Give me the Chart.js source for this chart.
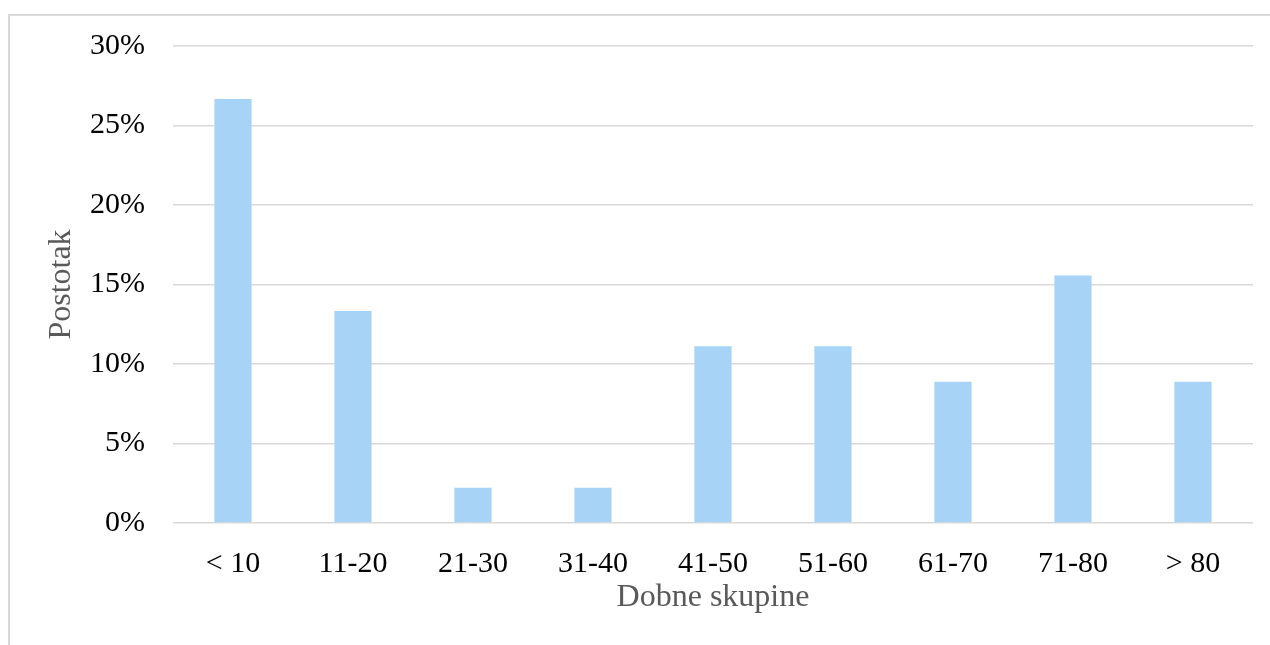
<!DOCTYPE html>
<html>
<head>
<meta charset="utf-8">
<script src="https://cdn.jsdelivr.net/npm/chart.js@4.4.0/dist/chart.umd.min.js"></script>
<style>
  html, body { margin: 0; padding: 0; background: #fff; overflow: hidden; }
  #wrap { position: relative; width: 1270px; height: 645px; }
  #frame { position: absolute; left: 8px; top: 14px; width: 1400px; height: 800px;
           border-left: 2px solid #d9d9d9; border-top: 2px solid #d9d9d9; }
  canvas { position: absolute; left: 0; top: 0; }
</style>
</head>
<body>
<div id="wrap">
  <div id="frame"></div>
  <canvas id="chart"></canvas>
</div>
<script>
// age groups and share of cases (%)
var labels = ["< 10", "11-20", "21-30", "31-40", "41-50", "51-60", "61-70", "71-80", "> 80"];
var values = [26.67, 13.33, 2.22, 2.22, 11.11, 11.11, 8.89, 15.56, 8.89];
var xTitle = "Dobne skupine";
var yTitle = "Postotak";

var serif = "'Liberation Serif', 'Times New Roman', serif";

const ctx = document.getElementById("chart").getContext("2d");
var config = {
  type: "bar",
  data: {
    labels: labels,
    datasets: [{
      label: "",
      data: values,
      backgroundColor: "#a7d3f7",
      borderWidth: 0,
      barPercentage: 0.31,
      categoryPercentage: 1
    }]
  },
  options: {
    responsive: true,
    maintainAspectRatio: false,
    animation: false,
    layout: {
      padding: { left: 42.8, right: 17, top: 46, bottom: 27.8 }
    },
    plugins: {
      legend: { display: false },
      tooltip: { enabled: false }
    },
    scales: {
      x: {
        grid: { display: false, drawTicks: false },
        border: { display: false },
        ticks: {
          color: "#000",
          padding: 23,
          maxRotation: 0,
          font: { family: serif, size: 30 }
        },
        title: {
          display: true,
          text: xTitle,
          color: "#595959",
          padding: 0,
          font: { family: serif, size: 32 }
        },
        afterFit: function (scale) { scale.height = 94.2; }
      },
      y: {
        min: 0,
        max: 30,
        grid: { color: "#d9d9d9", lineWidth: 1.5, drawTicks: false },
        border: { display: false },
        ticks: {
          stepSize: 5,
          color: "#000",
          padding: 28,
          font: { family: serif, size: 30 },
          callback: function (v) { return v + "%"; }
        },
        title: {
          display: true,
          text: yTitle,
          color: "#595959",
          padding: 0,
          font: { family: serif, size: 32 }
        },
        afterFit: function (scale) { scale.width = 130.2; }
      }
    }
  }
};
var chart = new Chart(ctx, config);
</script>
</body>
</html>
